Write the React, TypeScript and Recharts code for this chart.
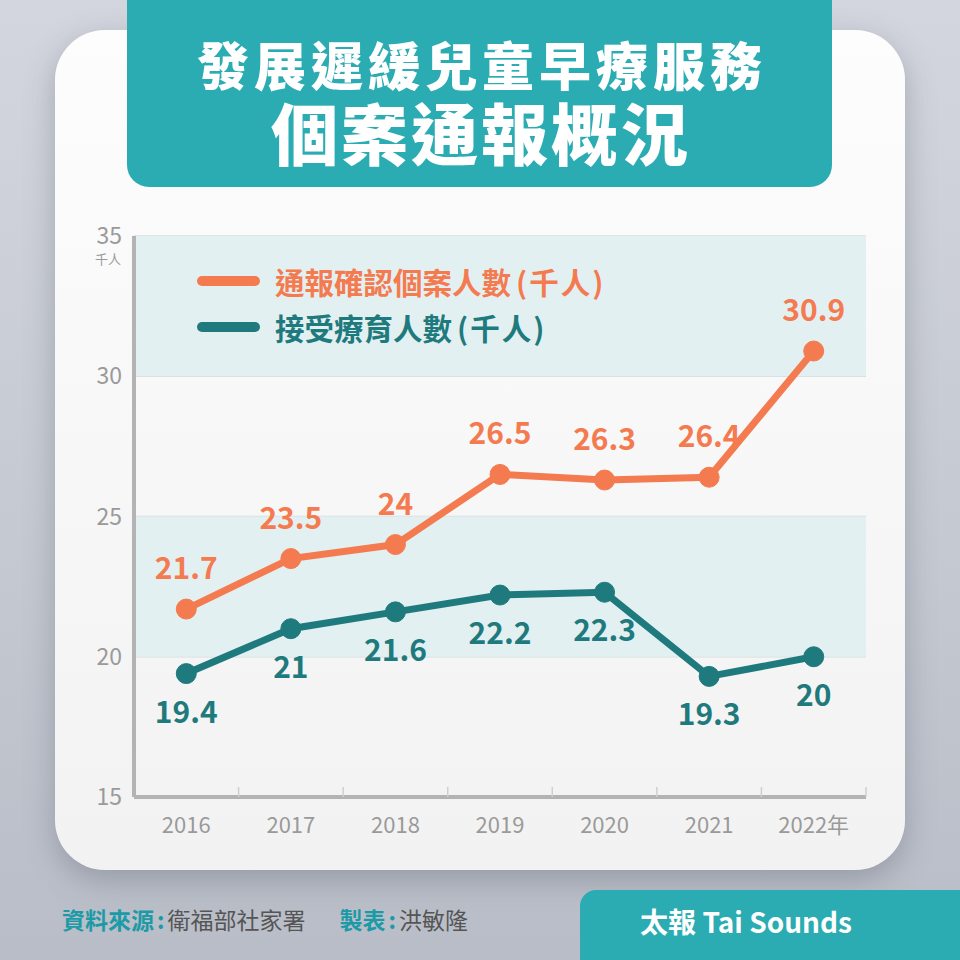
import React from "react";
import { LineChart, Line, XAxis, YAxis, CartesianGrid, ReferenceArea } from "recharts";

const YEARS = ["2016", "2017", "2018", "2019", "2020", "2021", "2022年"];
const REPORTED = [21.7, 23.5, 24, 26.5, 26.3, 26.4, 30.9];
const TREATED = [19.4, 21, 21.6, 22.2, 22.3, 19.3, 20];
const Y_TICKS = [15, 20, 25, 30, 35];
const BANDS: [number, number][] = [[20, 25], [30, 35]];

const ORANGE = "#f47b50";
const TEAL_DARK = "#1f7a7d";
const TEAL = "#2aacb2";
const AXIS_GREY = "#b3b3b3";
const TEXT_GREY = "#9a9a9a";
const FONT = '"Noto Sans CJK TC", "Noto Sans", sans-serif';

const SERIES = [
  { key: "reported", name: "通報確認個案人數", unit: "(千人)", color: ORANGE, dy: -30 },
  { key: "treated", name: "接受療育人數", unit: "(千人)", color: TEAL_DARK, dy: 49 },
];

const data = YEARS.map((year, i) => ({ year, reported: REPORTED[i], treated: TREATED[i] }));

const XTick = (props: any) => {
  const { x, y, payload, width, visibleTicksCount } = props;
  const bw = width / (visibleTicksCount || YEARS.length);
  const axisY = y - 8;
  return (
    <g>
      <line x1={x + bw / 2} x2={x + bw / 2} y1={axisY} y2={axisY - 10} stroke="#cfcfcf" strokeWidth={1.5} />
      <text x={x} y={y + 28} textAnchor="middle" fill={TEXT_GREY} fontSize={22} fontFamily={FONT}>
        {payload.value}
      </text>
    </g>
  );
};

const YTick = (props: any) => {
  const { x, y, payload } = props;
  return (
    <g>
      <text x={x - 4} y={y + 8} textAnchor="end" fill={TEXT_GREY} fontSize={23} fontFamily={FONT}>
        {payload.value}
      </text>
      {payload.value === 35 && (
        <text x={x - 5} y={y + 28} textAnchor="end" fill={TEXT_GREY} fontSize={13} fontFamily={FONT}>
          千人
        </text>
      )}
    </g>
  );
};

const makeLabel = (color: string, dy: number) => (props: any) => {
  const { x, y, value } = props;
  return (
    <text x={x} y={y + dy} textAnchor="middle" fill={color} fontSize={30} fontWeight={700} fontFamily={FONT}>
      {value}
    </text>
  );
};

const LegendBox = () => (
  <div style={{ position: "absolute", left: 197, top: 258, fontFamily: FONT }}>
    {SERIES.map((s) => (
      <div key={s.key} style={{ display: "flex", alignItems: "center", height: 46 }}>
        <div style={{ width: 63, height: 10, borderRadius: 5, background: s.color, marginRight: 15 }} />
        <span style={{ color: s.color, fontSize: 29.5, fontWeight: 700, whiteSpace: "nowrap" }}>
          {s.name}
          <span style={{ marginLeft: 5, letterSpacing: 2 }}>{s.unit}</span>
        </span>
      </div>
    ))}
  </div>
);

export default function App() {
  return (
    <div
      style={{
        position: "fixed", left: 0, top: 0, width: 960, height: 960, overflow: "hidden",
        background: "linear-gradient(180deg, #d3d6de 0%, #c4c8d1 60%, #b9bdc7 100%)",
        fontFamily: FONT,
      }}
    >
      {/* card */}
      <div
        style={{
          position: "absolute", left: 55, top: 30, width: 850, height: 840, borderRadius: 50,
          background: "linear-gradient(180deg, #fdfdfd 0%, #f2f2f2 100%)",
          boxShadow: "0 10px 30px rgba(80,85,100,0.35)",
        }}
      />
      {/* header */}
      <div
        style={{
          position: "absolute", left: 127, top: -20, width: 705, height: 207, borderRadius: 22,
          background: TEAL, color: "#fff", textAlign: "center", fontWeight: 900,
        }}
      >
        <div style={{ position: "absolute", left: 0, right: 0, top: 58, fontSize: 52, lineHeight: "52px", letterSpacing: 5, paddingLeft: 5 }}>
          發展遲緩兒童早療服務
        </div>
        <div style={{ position: "absolute", left: 0, right: 0, top: 117, fontSize: 67, lineHeight: "67px", letterSpacing: 3, paddingLeft: 3 }}>
          個案通報概況
        </div>
      </div>
      {/* chart */}
      <div style={{ position: "absolute", left: 0, top: 0 }}>
        <LineChart width={960} height={960} data={data} margin={{ top: 236, right: 94, bottom: 133, left: 74 }}>
          {BANDS.map(([a, b]) => (
            <ReferenceArea key={a} y1={a} y2={b} fill="#e3f0f2" fillOpacity={1} stroke="none" ifOverflow="visible" />
          ))}
          <CartesianGrid vertical={false} stroke="#d8dcdd" strokeWidth={1.5} />
          <XAxis
            dataKey="year"
            scale="band"
            interval={0}
            axisLine={{ stroke: AXIS_GREY, strokeWidth: 4 }}
            tickLine={false}
            tick={<XTick />}
            height={30}
          />
          <YAxis
            domain={[15, 35]}
            ticks={Y_TICKS}
            interval={0}
            axisLine={{ stroke: AXIS_GREY, strokeWidth: 4 }}
            tickLine={false}
            tick={<YTick />}
            width={60}
          />
          {SERIES.map((s) => (
            <Line
              key={s.key}
              dataKey={s.key}
              name={s.name}
              stroke={s.color}
              strokeWidth={7}
              dot={{ r: 10, fill: s.color, stroke: s.color, strokeWidth: 1 }}
              isAnimationActive={false}
              label={makeLabel(s.color, s.dy)}
            />
          ))}
        </LineChart>
      </div>
      <LegendBox />
      {/* footer */}
      <div style={{ position: "absolute", left: 62, top: 902, fontSize: 23, whiteSpace: "nowrap" }}>
        <span style={{ color: "#1c9aa6", fontWeight: 700 }}>資料來源</span>
        <span style={{ color: "#1c9aa6", fontWeight: 700, margin: "0 3px" }}>:</span>
        <span style={{ color: "#555" }}>衛福部社家署</span>
        <span style={{ display: "inline-block", width: 34 }} />
        <span style={{ color: "#1c9aa6", fontWeight: 700 }}>製表</span>
        <span style={{ color: "#1c9aa6", fontWeight: 700, margin: "0 3px" }}>:</span>
        <span style={{ color: "#555" }}>洪敏隆</span>
      </div>
      <div
        style={{
          position: "absolute", left: 580, top: 890, width: 400, height: 100, borderRadius: 16,
          background: TEAL,
        }}
      >
        <div style={{ position: "absolute", left: 0, width: 332, top: 11, textAlign: "center", color: "#fff", fontSize: 28, fontWeight: 700 }}>
          太報 Tai Sounds
        </div>
      </div>
    </div>
  );
}
